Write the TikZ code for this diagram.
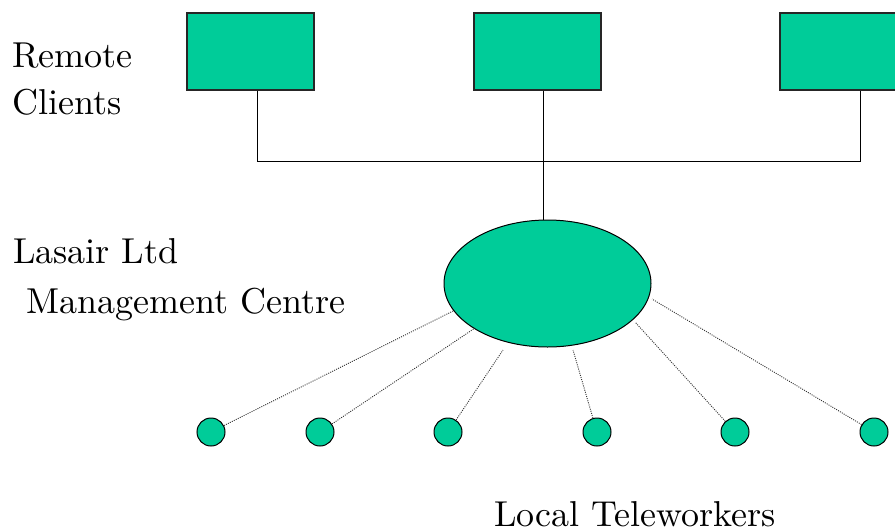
\documentclass[tikz,border=0pt]{standalone}
\usepackage{graphicx}
\usetikzlibrary{shapes.geometric}
\definecolor{netgreen}{RGB}{0,204,153}
\newcommand{\biglabel}[1]{\scalebox{3.6}{\fontsize{10}{12}\selectfont #1}}
\begin{document}
\begin{tikzpicture}[x=1pt,y=-1pt,
  clientbox/.style={draw=black!85,line width=1.3pt,fill=netgreen,rectangle,minimum width=127pt,minimum height=77pt,inner sep=0pt},
  centre/.style={draw=black,line width=1pt,fill=netgreen,ellipse,minimum width=207pt,minimum height=127pt,inner sep=0pt},
  worker/.style={draw=black,line width=1pt,fill=netgreen,circle,minimum size=28pt,inner sep=0pt},
  wire/.style={draw=black,line width=0.9pt},
  dotwire/.style={draw=black!80,line width=0.9pt,dash pattern=on 1pt off 1.2pt},
  lbl/.style={anchor=base west,inner sep=0pt}]
\clip (0,0) rectangle (895,531);
\fill[white] (0,0) rectangle (895,531);
% remote clients
\node[clientbox] (b1) at (250.5,51.5) {};
\node[clientbox] (b2) at (537.5,51.5) {};
\node[clientbox] (b3) at (843.5,51.5) {};
% management centre
\node[centre] (ell) at (547.5,283.5) {};
% teleworkers
\node[worker] (c1) at (211,432) {};
\node[worker] (c2) at (320,432) {};
\node[worker] (c3) at (448,432) {};
\node[worker] (c4) at (597,432) {};
\node[worker] (c5) at (735,432) {};
\node[worker] (c6) at (874,432) {};
% junctions
\coordinate (j1) at (257,161);
\coordinate (j2) at (543,161);
\coordinate (j3) at (860,161);
\draw[wire] (j1 |- b1.south) -- (j1) -- (j3) -- (j3 |- b3.south);
\draw[wire] (j2 |- b2.south) -- (j2 |- ell.north);
% dotted ends near ellipse
\coordinate (e1) at (453,311);
\coordinate (e2) at (475,328);
\coordinate (e3) at (503,350);
\coordinate (e4) at (573,350);
\coordinate (e5) at (635,322);
\coordinate (e6) at (652,299);
\draw[dotwire] (c1) -- (e1);
\draw[dotwire] (c2) -- (e2);
\draw[dotwire] (c3) -- (e3);
\draw[dotwire] (c4) -- (e4);
\draw[dotwire] (c5) -- (e5);
\draw[dotwire] (c6) -- (e6);
% labels
\node[lbl] (t1) at (12,67) {\biglabel{Remote}};
\node[lbl] (t2) at (12,114) {\biglabel{Clients}};
\node[lbl] (t3) at (13,263) {\biglabel{Lasair Ltd}};
\node[lbl] (t4) at (26,313) {\biglabel{Management Centre}};
\node[lbl] (t5) at (494,526) {\biglabel{Local Teleworkers}};
\end{tikzpicture}
\end{document}
